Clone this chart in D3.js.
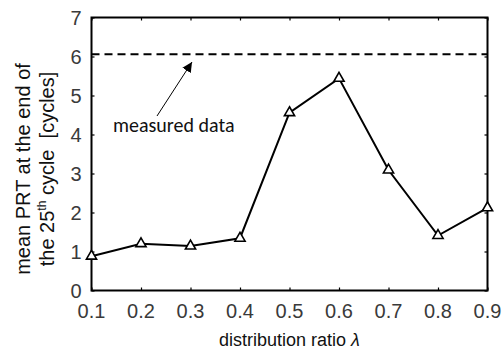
<!DOCTYPE html>
<html><head><meta charset="utf-8">
<script src="https://cdn.jsdelivr.net/npm/d3@7"></script>
<style>body{margin:0;background:#fff}svg{display:block}</style>
</head><body><svg id="c" width="503" height="351"></svg>
<script>
const lambdas = [0.1, 0.2, 0.3, 0.4, 0.5, 0.6, 0.7, 0.8, 0.9];
const meanPRT = [0.88, 1.20, 1.14, 1.34, 4.56, 5.44, 3.09, 1.41, 2.12];
const measured = 6.06;
const yTicks = [0, 1, 2, 3, 4, 5, 6, 7];
const xTicks = [0.1, 0.2, 0.3, 0.4, 0.5, 0.6, 0.7, 0.8, 0.9];

const svg = d3.select("#c");
const L = 91.5, R = 487.5, T = 17.5, B = 290.5;
const x = d3.scaleLinear().domain([0.1, 0.9]).range([L, R]);
const y = d3.scaleLinear().domain([0, 7]).range([B, T]);
const font = "Liberation Sans, Arial, sans-serif";
const tickCol = "#3a3a3a";

// axes (inner ticks)
const ax = (g, axis) => { g.call(axis); g.select(".domain").remove(); g.selectAll("line").attr("stroke","#000").attr("stroke-width",1.2); };
svg.append("g").attr("transform",`translate(0,${B})`).call(g=>ax(g, d3.axisTop(x).tickValues(xTicks).tickSize(3).tickFormat("")));
svg.append("g").attr("transform",`translate(0,${T})`).call(g=>ax(g, d3.axisBottom(x).tickValues(xTicks).tickSize(3).tickFormat("")));
svg.append("g").attr("transform",`translate(${L},0)`).call(g=>ax(g, d3.axisRight(y).tickValues(yTicks).tickSize(3).tickFormat("")));
svg.append("g").attr("transform",`translate(${R},0)`).call(g=>ax(g, d3.axisLeft(y).tickValues(yTicks).tickSize(3).tickFormat("")));

// tick labels
svg.append("g").selectAll("text").data(xTicks).join("text")
  .attr("x", d=>x(d)).attr("y", B+27).attr("text-anchor","middle")
  .attr("font-family",font).attr("font-size",20).attr("fill",tickCol)
  .text(d=>d3.format(".1f")(d));
svg.append("g").selectAll("text").data(yTicks).join("text")
  .attr("x", L-10).attr("y", d=>y(d)+7).attr("text-anchor","end")
  .attr("font-family",font).attr("font-size",20).attr("fill",tickCol)
  .text(d=>d);

// frame
svg.append("rect").attr("x",L).attr("y",T).attr("width",R-L).attr("height",B-T)
  .attr("fill","none").attr("stroke","#000").attr("stroke-width",2);

// measured dashed line
svg.append("line").attr("x1",L).attr("x2",R).attr("y1",y(measured)).attr("y2",y(measured))
  .attr("stroke","#000").attr("stroke-width",2).attr("stroke-dasharray","8,5");

// data line
const pts = lambdas.map((l,i)=>[l, meanPRT[i]]);
svg.append("path").datum(pts)
  .attr("d", d3.line().x(d=>x(d[0])).y(d=>y(d[1])))
  .attr("fill","none").attr("stroke","#000").attr("stroke-width",2);
svg.append("g").selectAll("path").data(pts).join("path")
  .attr("transform", d=>`translate(${x(d[0])},${y(d[1])})`)
  .attr("d", d3.symbol(d3.symbolTriangle, 45))
  .attr("fill","#fff").attr("stroke","#000").attr("stroke-width",1.6);

// annotation
const defs = svg.append("defs");
defs.append("marker").attr("id","ah").attr("viewBox","0 0 10 10").attr("refX",10).attr("refY",5)
  .attr("markerWidth",10).attr("markerHeight",10).attr("markerUnits","userSpaceOnUse").attr("orient","auto")
  .append("path").attr("d","M0,0L10,5L0,10Z").attr("fill","#000");
svg.append("line").attr("x1",157).attr("y1",116).attr("x2",192).attr("y2",62)
  .attr("stroke","#000").attr("stroke-width",1).attr("marker-end","url(#ah)");
svg.append("text").attr("x",113).attr("y",132).attr("font-family","Carlito, 'Open Sans', Lato, sans-serif")
  .attr("font-size",20).attr("fill","#111").text("measured data");

// axis titles
svg.append("text").attr("x",(L+R)/2).attr("y",346).attr("text-anchor","middle")
  .attr("font-family",font).attr("font-size",18).attr("fill","#111")
  .html('distribution ratio <tspan font-style="italic">λ</tspan>');
const yt = svg.append("text").attr("transform",`translate(30,169) rotate(-90)`).attr("text-anchor","middle")
  .attr("font-family",font).attr("font-size",20).attr("fill","#111");
yt.append("tspan").attr("x",0).attr("dy",0).text("mean PRT at the end of");
const l2 = yt.append("tspan").attr("x",0).attr("dy",24);
l2.text("the 25");
yt.append("tspan").attr("font-size",12).attr("dy",-8).text("th");
yt.append("tspan").attr("dy",8).text(" cycle\u00a0\u00a0[cycles]");
</script></body></html>
